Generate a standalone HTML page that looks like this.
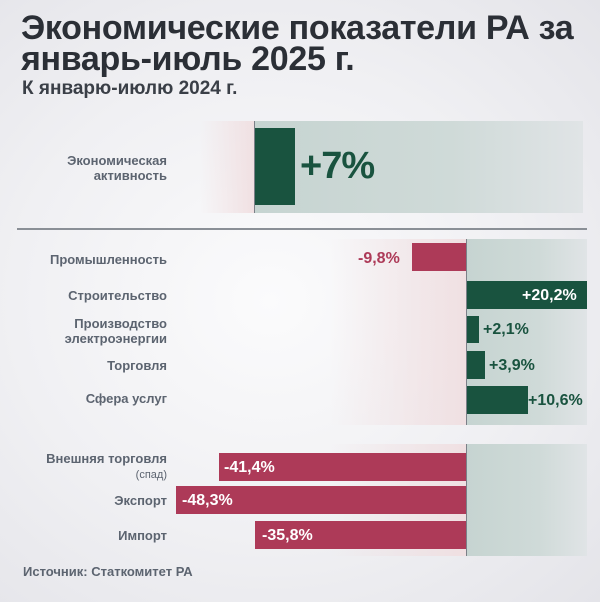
<!DOCTYPE html>
<html><head><meta charset="utf-8"><style>
*{margin:0;padding:0;box-sizing:border-box}
body{width:600px;height:602px;overflow:hidden;font-family:"Liberation Sans",sans-serif;background:radial-gradient(ellipse at 45% 50%,#fbfbfc 0%,#f0f0f3 55%,#e4e4e9 100%);position:relative;color:#5c6470}
.a{position:absolute}
h1{position:absolute;left:21px;top:13px;font-size:34px;line-height:31px;font-weight:bold;color:#2b2f36;letter-spacing:-0.3px;white-space:nowrap}
.sub{left:22px;top:78px;font-size:19px;font-weight:bold;color:#3a3f47}
.lab{position:absolute;right:433px;font-size:13px;font-weight:bold;color:#5c6470;text-align:right;line-height:15px}
.g{background:#19533f}.r{background:#ad3a58}
.panel{background:linear-gradient(90deg,rgba(244,228,230,0) 0%,rgba(240,222,224,.9) 100%)}
.rp{background:linear-gradient(90deg,#c6d4d1 0%,#cfdad8 60%,#e0e4e6 100%)}
.v{position:absolute;font-weight:bold;font-size:16px}
.ax{position:absolute;width:1px;background:#7b8088}
</style></head><body>
<h1>Экономические показатели РА за<br>январь-июль 2025 г.</h1>
<div class="a sub">К январю-июлю 2024 г.</div>

<div class="a panel" style="left:200px;top:121px;width:54px;height:92px"></div>
<div class="a rp" style="left:254px;top:121px;width:329px;height:92px"></div>
<div class="ax" style="left:254px;top:121px;height:92px"></div>
<div class="a g" style="left:255px;top:128px;width:40px;height:77px"></div>
<div class="v" style="left:300px;top:145px;font-size:38px;color:#19533f;letter-spacing:-1px">+7%</div>
<div class="lab" style="top:153px">Экономическая<br>активность</div>

<div class="a" style="left:17px;top:228px;width:570px;height:1.5px;background:#8a8f96"></div>

<div class="a panel" style="left:330px;top:239px;width:136px;height:186px"></div>
<div class="a rp" style="left:466px;top:239px;width:121px;height:186px"></div>
<div class="ax" style="left:466px;top:239px;height:186px"></div>
<div class="a r" style="left:412px;top:243px;width:54px;height:28px"></div>
<div class="v" style="left:358px;top:250px;color:#ad3a58">-9,8%</div>
<div class="lab" style="top:252px">Промышленность</div>
<div class="a g" style="left:467px;top:281px;width:120px;height:28px"></div>
<div class="v" style="left:522px;top:287px;color:#fff">+20,2%</div>
<div class="lab" style="top:288px">Строительство</div>
<div class="a g" style="left:467px;top:316px;width:12px;height:27px"></div>
<div class="v" style="left:483px;top:321px;color:#19533f">+2,1%</div>
<div class="lab" style="top:316px">Производство<br>электроэнергии</div>
<div class="a g" style="left:467px;top:351px;width:18px;height:28px"></div>
<div class="v" style="left:489px;top:357px;color:#19533f">+3,9%</div>
<div class="lab" style="top:358px">Торговля</div>
<div class="a g" style="left:467px;top:386px;width:61px;height:28px"></div>
<div class="v" style="left:528px;top:392px;color:#19533f">+10,6%</div>
<div class="lab" style="top:391px">Сфера услуг</div>

<div class="a panel" style="left:330px;top:444px;width:136px;height:112px"></div>
<div class="a rp" style="left:466px;top:444px;width:121px;height:112px"></div>
<div class="ax" style="left:466px;top:444px;height:112px"></div>
<div class="a r" style="left:219px;top:453px;width:247px;height:28px"></div>
<div class="v" style="left:224px;top:459px;color:#fff">-41,4%</div>
<div class="lab" style="top:451px">Внешняя торговля<br><span style="font-weight:normal;font-size:11px">(спад)</span></div>
<div class="a r" style="left:176px;top:486px;width:290px;height:28px"></div>
<div class="v" style="left:182px;top:492px;color:#fff">-48,3%</div>
<div class="lab" style="top:493px">Экспорт</div>
<div class="a r" style="left:255px;top:521px;width:211px;height:28px"></div>
<div class="v" style="left:262px;top:527px;color:#fff">-35,8%</div>
<div class="lab" style="top:528px">Импорт</div>

<div class="a" style="left:23px;top:564px;font-size:13px;font-weight:bold;color:#5c6470">Источник: Статкомитет РА</div>
</body></html>
